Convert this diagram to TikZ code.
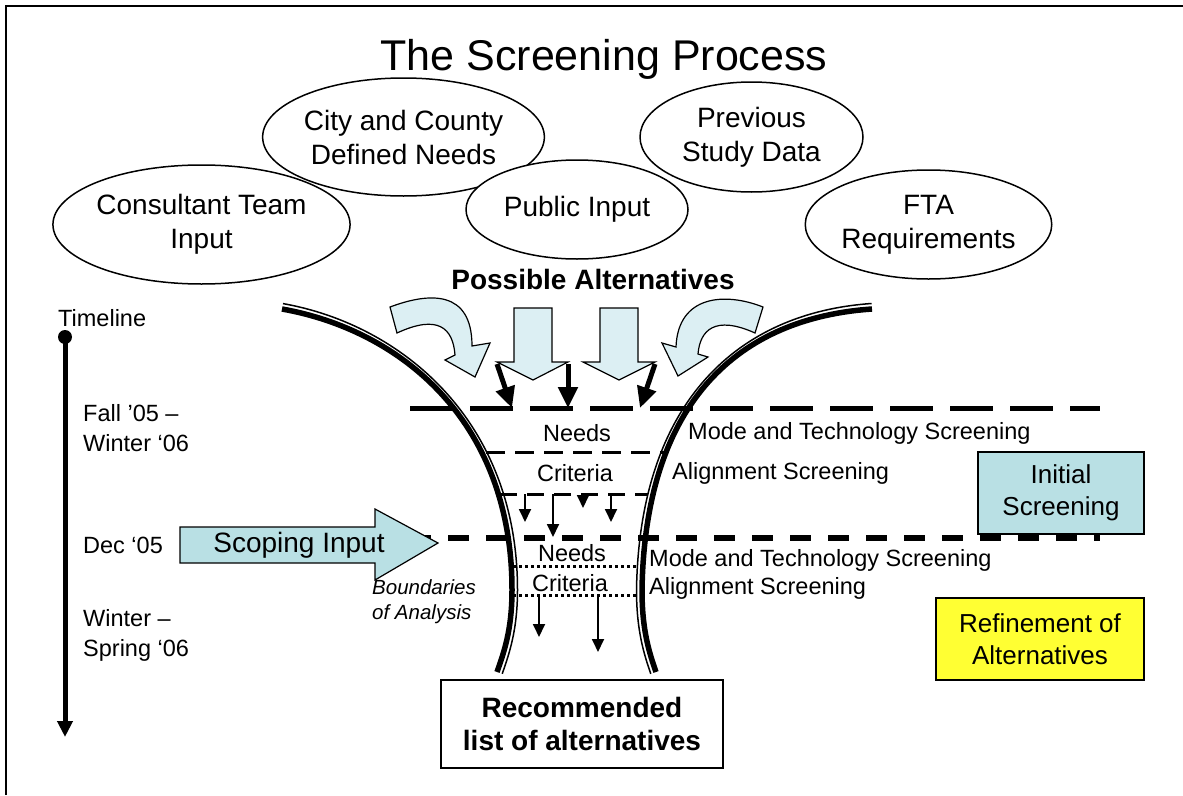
\documentclass[tikz,border=0pt]{standalone}
\usepackage{fontspec}
\setmainfont{Liberation Sans}
\usetikzlibrary{shapes.geometric,arrows.meta}
\definecolor{lblue}{RGB}{185,224,228}
\definecolor{afill}{RGB}{220,239,243}
\definecolor{yel}{RGB}{255,255,51}
\begin{document}
\begin{tikzpicture}[x=1pt,y=-1pt,
  ell/.style={ellipse, draw, line width=1.5pt, fill=white, inner sep=0pt, align=center, font=\fontsize{28}{34}\selectfont},
  lbl/.style={inner sep=0pt, font=\fontsize{23.5}{30}\selectfont},
  big/.style={inner sep=0pt, align=center, font=\fontsize{28}{34}\selectfont},
  barrow/.style={draw, line width=1.2pt, fill=afill, line join=miter},
  blk/.style={line width=5pt, -{Triangle[length=21pt,width=19pt]}},
  tarr/.style={line width=1.8pt, -{Triangle[length=13pt,width=12pt]}},
  thickdash/.style={line width=5pt, dash pattern=on 43pt off 17pt},
  dashB/.style={line width=5.5pt, dash pattern=on 21pt off 17pt},
  meddash/.style={line width=3pt, dash pattern=on 19pt off 10pt},
  meddashB/.style={line width=3pt, dash pattern=on 17pt off 10pt},
  dotline/.style={line width=3pt, dash pattern=on 3pt off 3pt},
  funnel/.style={line width=5.5pt},
  funnelthin/.style={line width=1.5pt}
]
\useasboundingbox (0,0) rectangle (1183,795);
% frame (top and left edges only)
\draw[line width=2pt] (6,795) -- (6,6) -- (1183,6);

% title
\node[inner sep=0pt, font=\fontsize{43}{50}\selectfont] (title) at (604,59) {The Screening Process};

% input ellipses
\node[ell, minimum width=277pt, minimum height=119pt] (consult) at (201.5,224.5) {Consultant Team\\Input};
\node[ell, minimum width=275pt, minimum height=118pt] (city) at (403.5,137) {City and County\\Defined Needs};
\node[ell, minimum width=223pt, minimum height=110pt] (prev) at (751.5,137) {Previous\\Study Data};
\node[ell, minimum width=222pt, minimum height=99pt] (public) at (577,209.5) {Public Input};
\node[ell, minimum width=205pt, minimum height=109pt] (fta) at (928.5,224.5) {FTA\\Requirements};

\node[big, font=\fontsize{28}{34}\selectfont\bfseries] (possible) at (593,279) {Possible Alternatives};

% horizontal screening lines
\coordinate (l1a) at (410,408); \coordinate (l1b) at (1100,408);
\coordinate (l2a) at (486,452); \coordinate (l2b) at (667,452);
\coordinate (l3a) at (500,494); \coordinate (l3b) at (648,494);
\coordinate (l4a) at (410,538); \coordinate (l4b) at (1100,538);
\coordinate (l5a) at (513,566); \coordinate (l5b) at (637,566);
\coordinate (l6a) at (513,595); \coordinate (l6b) at (637,595);
\draw[thickdash] (l1a) -- (l1b);
\draw[meddash] (l2a) -- (l2b);
\draw[meddashB] (l3a) -- (l3b);
\draw[dashB] (l4a) -- (l4b);
\draw[dotline] (l5a) -- (l5b);
\draw[dotline] (l6a) -- (l6b);

% funnel walls
\draw[funnel] (282,309) .. controls (400,330) and (512,420) .. (512,590) .. controls (512,630) and (504,652) .. (497,672);
\draw[funnelthin] (283,303.6) .. controls (401,324.6) and (517.5,420) .. (517.5,590) .. controls (517.5,630) and (509.2,653.8) .. (502.2,673.8);
\draw[funnel] (872,309) .. controls (740,318) and (645,400) .. (642,590) .. controls (642,630) and (649,652) .. (656,672);
\draw[funnelthin] (871.6,303.5) .. controls (739.6,312.5) and (639.5,399.9) .. (636.5,590) .. controls (636.5,630) and (643.8,653.8) .. (650.8,673.8);

% block arrows feeding the funnel
\draw[barrow] (390,307) .. controls (430,292) and (472,290) .. (472,346) -- (490,343) -- (475,377) -- (445,360) -- (455,355) .. controls (453,328) and (438,314) .. (397,333) -- cycle;
\draw[barrow] (514,308) -- (552,308) -- (552,362) -- (568,362) -- (533,380) -- (497,362) -- (514,362) -- cycle;
\draw[barrow] (600,308) -- (638,308) -- (638,362) -- (655,362) -- (619,380) -- (583,362) -- (600,362) -- cycle;
\draw[barrow] (763,307) .. controls (725,292) and (678,295) .. (676,347) -- (662,343) -- (678,376) -- (708,357) -- (698,354) .. controls (700,330) and (715,315) .. (755,333) -- cycle;

% black arrows onto the first line
\coordinate (ba1) at (497,364); \coordinate (ba1t) at (512,408);
\coordinate (ba2) at (568,364); \coordinate (ba2t) at (568,408);
\coordinate (ba3) at (655,364); \coordinate (ba3t) at (640,408);
\draw[blk] (ba1) -- (ba1t);
\draw[blk] (ba2) -- (ba2t);
\draw[blk] (ba3) -- (ba3t);

% small arrows after criteria
\coordinate (sa1) at (525,494); \coordinate (sa1t) at (525,522);
\coordinate (sa2) at (553,494); \coordinate (sa2t) at (553,537);
\coordinate (sa3) at (583,494); \coordinate (sa3t) at (583,508);
\coordinate (sa4) at (611,494); \coordinate (sa4t) at (611,522);
\draw[tarr] (sa1) -- (sa1t);
\draw[tarr] (sa2) -- (sa2t);
\draw[tarr] (sa3) -- (sa3t);
\draw[tarr] (sa4) -- (sa4t);
\coordinate (sb1) at (539,595); \coordinate (sb1t) at (539,637);
\coordinate (sb2) at (598,595); \coordinate (sb2t) at (598,652);
\draw[tarr] (sb1) -- (sb1t);
\draw[tarr] (sb2) -- (sb2t);

% funnel labels
\node[lbl] (needs1) at (577,433) {Needs};
\node[lbl] (crit1) at (575,473) {Criteria};
\node[lbl] (needs2) at (572,553) {Needs};
\node[lbl] (crit2) at (570,583) {Criteria};
\node[lbl, anchor=west] (mode1) at (688,433) {Mode and Technology Screening};
\node[lbl, anchor=west] (align1) at (672,473) {Alignment Screening};
\node[lbl, anchor=west] (mode2) at (649,560) {Mode and Technology Screening};
\node[lbl, anchor=west] (align2) at (649,588) {Alignment Screening};

% scoping input arrow
\draw[draw, line width=1.2pt, fill=lblue, line join=miter] (180,527) -- (375,527) -- (375,509) -- (438,543) -- (375,580) -- (375,563) -- (180,563) -- cycle;
\node[big] (scoping) at (299,545) {Scoping Input};
\node[inner sep=0pt, align=left, anchor=west, font=\fontsize{20.5}{25}\selectfont\itshape] (bound) at (372,602) {Boundaries\\of Analysis};

% timeline
\node[circle, fill, minimum size=14pt, inner sep=0pt] (tdot) at (65,337) {};
\coordinate (tend) at (65,737);
\draw[line width=5pt, -{Triangle[length=16pt,width=15pt]}] (tdot.center) -- (tend);
\node[lbl, anchor=west] (timeline) at (58,318) {Timeline};
\node[lbl, anchor=west, align=left] (fall) at (83,428) {Fall ’05 –\\Winter ‘06};
\node[lbl, anchor=west] (dec) at (83,545) {Dec ‘05};
\node[lbl, anchor=west, align=left] (wint) at (83,635) {Winter –\\Spring ‘06};

% result box
\node[draw, line width=2pt, fill=white, minimum width=282pt, minimum height=88pt, inner sep=0pt, align=center, font=\fontsize{28}{33}\selectfont\bfseries] (rec) at (582,724) {Recommended\\list of alternatives};

% phase boxes
\node[draw, line width=1.5pt, fill=lblue, minimum width=166pt, minimum height=82pt, inner sep=0pt, align=center, font=\fontsize{26}{32}\selectfont] (initial) at (1061,493) {Initial\\Screening};
\node[draw, line width=1.5pt, fill=yel, minimum width=208pt, minimum height=82pt, inner sep=0pt, align=center, font=\fontsize{26}{32}\selectfont] (refine) at (1040,639) {Refinement of\\Alternatives};
\end{tikzpicture}
\end{document}
